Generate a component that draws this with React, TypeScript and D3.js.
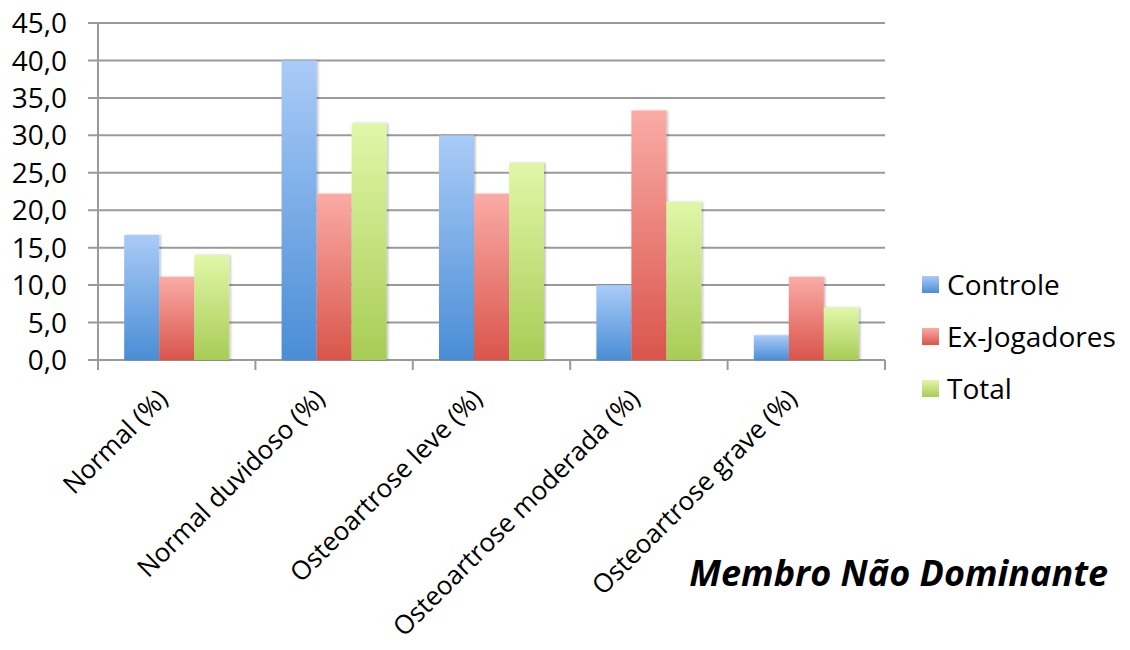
import React, { useEffect, useRef } from 'react';
import * as d3 from 'd3';

const categories = [
  'Normal (%)',
  'Normal duvidoso (%)',
  'Osteoartrose leve (%)',
  'Osteoartrose moderada (%)',
  'Osteoartrose grave (%)',
];
const seriesNames = ['Controle', 'Ex-Jogadores', 'Total'];
const controle = [16.7, 40.0, 30.0, 10.0, 3.3];
const exJogadores = [11.1, 22.2, 22.2, 33.3, 11.1];
const total = [14.0, 31.6, 26.3, 21.1, 7.0];
const yTicks = [0, 5, 10, 15, 20, 25, 30, 35, 40, 45];
const title = 'Membro Não Dominante';

// top / bottom gradient colours per series
const palette = [
  { top: '#aacbf8', bottom: '#4a8dd5' },
  { top: '#faaba6', bottom: '#d9554b' },
  { top: '#e1f7a8', bottom: '#a8cc56' },
];

const FONT = '"Open Sans", "Liberation Sans", sans-serif';

export default function App() {
  const svgRef = useRef<SVGSVGElement | null>(null);

  useEffect(() => {
    if (!svgRef.current) return;
    const svg = d3.select(svgRef.current);
    svg.selectAll('*').remove();

    const width = 1130;
    const height = 650;
    const margin = { top: 23, right: 245, bottom: 290, left: 98 };
    const chartWidth = width - margin.left - margin.right;
    const chartHeight = height - margin.top - margin.bottom;

    const series = [controle, exJogadores, total];

    const defs = svg.append('defs');
    palette.forEach((c, i) => {
      const grad = defs
        .append('linearGradient')
        .attr('id', `bar-grad-${i}`)
        .attr('x1', '0%')
        .attr('y1', '0%')
        .attr('x2', '0%')
        .attr('y2', '100%');
      grad.append('stop').attr('offset', '0%').attr('stop-color', c.top);
      grad.append('stop').attr('offset', '100%').attr('stop-color', c.bottom);
    });
    const shadow = defs.append('filter').attr('id', 'bar-shadow').attr('x', '-20%').attr('width', '140%');
    shadow
      .append('feDropShadow')
      .attr('dx', 1.5)
      .attr('dy', 0)
      .attr('stdDeviation', 1)
      .attr('flood-color', '#000')
      .attr('flood-opacity', 0.25);

    const g = svg.append('g').attr('transform', `translate(${margin.left},${margin.top})`);

    const x0 = d3.scaleBand<string>().domain(categories).range([0, chartWidth]).paddingInner(0).paddingOuter(0);
    const bandInner = x0.bandwidth() * (105 / 157.4);
    const x1 = d3
      .scaleBand<string>()
      .domain(seriesNames)
      .range([(x0.bandwidth() - bandInner) / 2, (x0.bandwidth() + bandInner) / 2]);

    const y = d3.scaleLinear().domain([0, 45]).range([chartHeight, 0]);

    // gridlines
    g.append('g')
      .selectAll('line')
      .data(yTicks)
      .enter()
      .append('line')
      .attr('x1', -10)
      .attr('x2', chartWidth)
      .attr('y1', (d) => y(d))
      .attr('y2', (d) => y(d))
      .attr('stroke', '#9a9a9a')
      .attr('stroke-width', 2);

    // y axis line
    g.append('line')
      .attr('x1', 0)
      .attr('x2', 0)
      .attr('y1', 0)
      .attr('y2', chartHeight + 10)
      .attr('stroke', '#9a9a9a')
      .attr('stroke-width', 2);

    // category tick marks
    const boundaries = categories.map((c) => x0(c) as number).concat([chartWidth]);
    g.append('g')
      .selectAll('line')
      .data(boundaries)
      .enter()
      .append('line')
      .attr('x1', (d) => d)
      .attr('x2', (d) => d)
      .attr('y1', chartHeight)
      .attr('y2', chartHeight + 10)
      .attr('stroke', '#9a9a9a')
      .attr('stroke-width', 2);

    // y labels
    g.append('g')
      .selectAll('text')
      .data(yTicks)
      .enter()
      .append('text')
      .attr('x', -31)
      .attr('y', (d) => y(d))
      .attr('dy', '0.36em')
      .attr('text-anchor', 'end')
      .attr('fill', '#000')
      .style('font-family', FONT)
      .style('font-size', '28px')
      .text((d) => d.toFixed(1).replace('.', ','));

    // bars
    const groups = g
      .append('g')
      .selectAll('g')
      .data(categories)
      .enter()
      .append('g')
      .attr('transform', (c) => `translate(${x0(c)},0)`);

    groups
      .selectAll('rect')
      .data((c, ci) => series.map((s, si) => ({ name: seriesNames[si], value: s[ci], si })))
      .enter()
      .append('rect')
      .attr('x', (d) => x1(d.name) as number)
      .attr('width', x1.bandwidth())
      .attr('y', (d) => y(d.value))
      .attr('height', (d) => chartHeight - y(d.value))
      .attr('fill', (d) => `url(#bar-grad-${d.si})`)
      .attr('filter', 'url(#bar-shadow)');

    // category labels
    g.append('g')
      .selectAll('text')
      .data(categories)
      .enter()
      .append('text')
      .attr('transform', (c) => `translate(${(x0(c) as number) + x0.bandwidth() / 2 - 14},${chartHeight + 34}) rotate(-45)`)
      .attr('dy', '0.35em')
      .attr('text-anchor', 'end')
      .attr('fill', '#000')
      .style('font-family', FONT)
      .style('font-size', '26px')
      .text((c) => c);

    // legend
    const legend = svg
      .append('g')
      .selectAll('g')
      .data(seriesNames)
      .enter()
      .append('g')
      .attr('transform', (d, i) => `translate(922,${285 + i * 52})`);
    legend
      .append('rect')
      .attr('x', 0)
      .attr('y', -9)
      .attr('width', 17)
      .attr('height', 17)
      .attr('fill', (d, i) => `url(#bar-grad-${i})`);
    legend
      .append('text')
      .attr('x', 25)
      .attr('y', 0)
      .attr('dy', '0.36em')
      .attr('fill', '#000')
      .style('font-family', FONT)
      .style('font-size', '28px')
      .text((d) => d);

    // title
    svg
      .append('text')
      .attr('x', 1108)
      .attr('y', 586)
      .attr('text-anchor', 'end')
      .attr('fill', '#000')
      .style('font-family', FONT)
      .style('font-size', '36px')
      .style('font-weight', 'bold')
      .style('font-style', 'italic')
      .text(title);
  }, []);

  return (
    <div style={{ position: 'absolute', left: 0, top: 0, width: 1130, height: 650, background: '#fff' }}>
      <svg ref={svgRef} width={1130} height={650} style={{ display: 'block' }} />
    </div>
  );
}
